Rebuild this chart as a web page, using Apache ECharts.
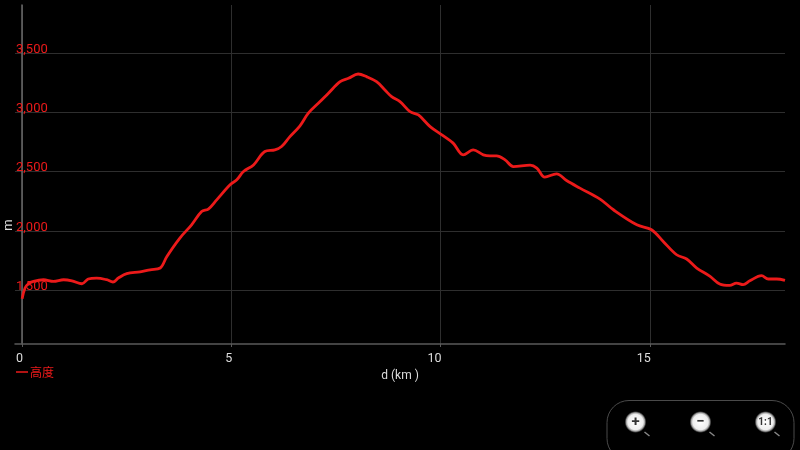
<!DOCTYPE html>
<html>
<head>
<meta charset="utf-8">
<script src="https://cdn.jsdelivr.net/npm/echarts@6/dist/echarts.min.js"></script>
<style>
html,body{margin:0;padding:0;background:#000;}
#c{width:800px;height:450px;}
</style>
</head>
<body>
<div id="c"></div>
<script>
// Distance along track (km)
const distanceKm = [0.00,0.07,0.15,0.27,0.51,0.75,0.99,1.19,1.43,1.58,1.78,2.02,2.17,2.30,2.50,2.82,3.06,3.30,3.46,3.77,4.05,4.29,4.45,4.65,4.97,5.13,5.29,5.53,5.80,6.04,6.20,6.40,6.64,6.84,7.12,7.32,7.60,7.80,8.03,8.23,8.47,8.67,8.83,9.03,9.27,9.47,9.75,10.03,10.30,10.54,10.78,11.02,11.18,11.34,11.54,11.74,12.14,12.30,12.49,12.77,13.01,13.33,13.81,14.13,14.69,15.04,15.32,15.64,15.88,16.12,16.44,16.67,16.91,17.07,17.23,17.39,17.67,17.83,18.03,18.23];
// Elevation (m)
const elevationM = [1427,1517,1553,1573,1587,1573,1587,1578,1553,1593,1601,1587,1568,1601,1638,1654,1671,1686,1784,1939,2051,2163,2184,2262,2389,2431,2501,2557,2670,2684,2712,2796,2887,2994,3092,3163,3260,3289,3325,3303,3260,3190,3134,3092,3007,2979,2881,2811,2741,2642,2684,2642,2633,2633,2600,2543,2555,2530,2454,2481,2425,2361,2268,2178,2051,2009,1910,1798,1762,1686,1615,1551,1539,1559,1545,1578,1621,1593,1593,1581];
const xTicks = [0,5,10,15];
const yTicks = [1500,2000,2500,3000,3500];
const seriesName = '高度';
const xName = 'd (km )';
const yName = 'm';

const RED = '#ec1a1a';
const chart = echarts.init(document.getElementById('c'), null, {renderer:'canvas'});
const data = distanceKm.map((d,i)=>[d, elevationM[i]]);

function btn(cx, cy, label, fs){
  return {
    type:'group', children:[
      {type:'line', shape:{x1:cx+9,y1:cy+10,x2:cx+14,y2:cy+14}, style:{stroke:'#888', lineWidth:1.5}},
      {type:'circle', shape:{cx:cx, cy:cy, r:11},
       style:{fill:new echarts.graphic.RadialGradient(0.5,0.5,0.5,[{offset:0,color:'#ffffff'},{offset:0.7,color:'#eeeeee'},{offset:0.85,color:'#9a9a9a'},{offset:1,color:'rgba(80,80,80,0)'}])}},
      {type:'text', x:cx, y:cy, style:{text:label, fill:'#333', font:'bold '+fs+'px Roboto', align:'center', verticalAlign:'middle'}}
    ]
  };
}

chart.setOption({
  backgroundColor:'#000',
  animation:false,
  grid:{left:15, right:15, top:5, bottom:106, containLabel:false},
  legend:{
    left:11, top:361, itemWidth:12, itemHeight:1.5, itemGap:10,
    icon:'rect',
    data:[{name:seriesName, itemStyle:{color:RED}}],
    textStyle:{color:RED, fontSize:12, fontFamily:'Noto Sans CJK SC', padding:[0,0,0,-3]}
  },
  xAxis:{
    type:'value', min:-0.17, max:18.23,
    name:xName, nameLocation:'middle', nameGap:22,
    nameTextStyle:{color:'#dddddd', fontSize:12, fontFamily:'Roboto'},
    axisLine:{show:true, onZero:false, lineStyle:{color:'#5a5a5a', width:1.5}},
    axisTick:{show:true, length:3, customValues:xTicks, lineStyle:{color:'#5a5a5a'}},
    axisLabel:{customValues:xTicks, color:'#dddddd', fontSize:12.5, fontFamily:'Roboto', align:'right', margin:8, padding:[0,-1,0,0]},
    splitLine:{show:true, lineStyle:{color:'#2e2e2e', width:1}}
  },
  yAxis:{
    type:'value', min:1044, max:3908,
    axisLine:{show:true, lineStyle:{color:'#6a6a6a', width:1.5}},
    axisTick:{show:false, customValues:yTicks},
    axisLabel:{customValues:yTicks, inside:true, margin:1, color:RED, fontSize:13, fontFamily:'Roboto',
      verticalAlign:'bottom', lineHeight:7,
      formatter:v=>v.toLocaleString('en-US')},
    splitLine:{show:true, lineStyle:{color:'#2e2e2e', width:1}}
  },
  series:[{
    name:seriesName, type:'line', data:data, smooth:0.35, showSymbol:false,
    lineStyle:{color:RED, width:2.8}, itemStyle:{color:RED}
  }],
  graphic:[
    {type:'text', x:9, y:225, rotation:Math.PI/2,
     style:{text:yName, fill:'#dddddd', font:'13px Roboto', align:'center', verticalAlign:'middle'}},
    {type:'rect', shape:{x:607, y:400.5, width:187, height:60, r:22},
     style:{fill:'#000', stroke:'#4a4a4a', lineWidth:1}},
    btn(635.5, 422, '+', 15),
    btn(700.5, 422, '−', 15),
    btn(765.5, 422, '1:1', 10)
  ]
});
</script>
</body>
</html>
